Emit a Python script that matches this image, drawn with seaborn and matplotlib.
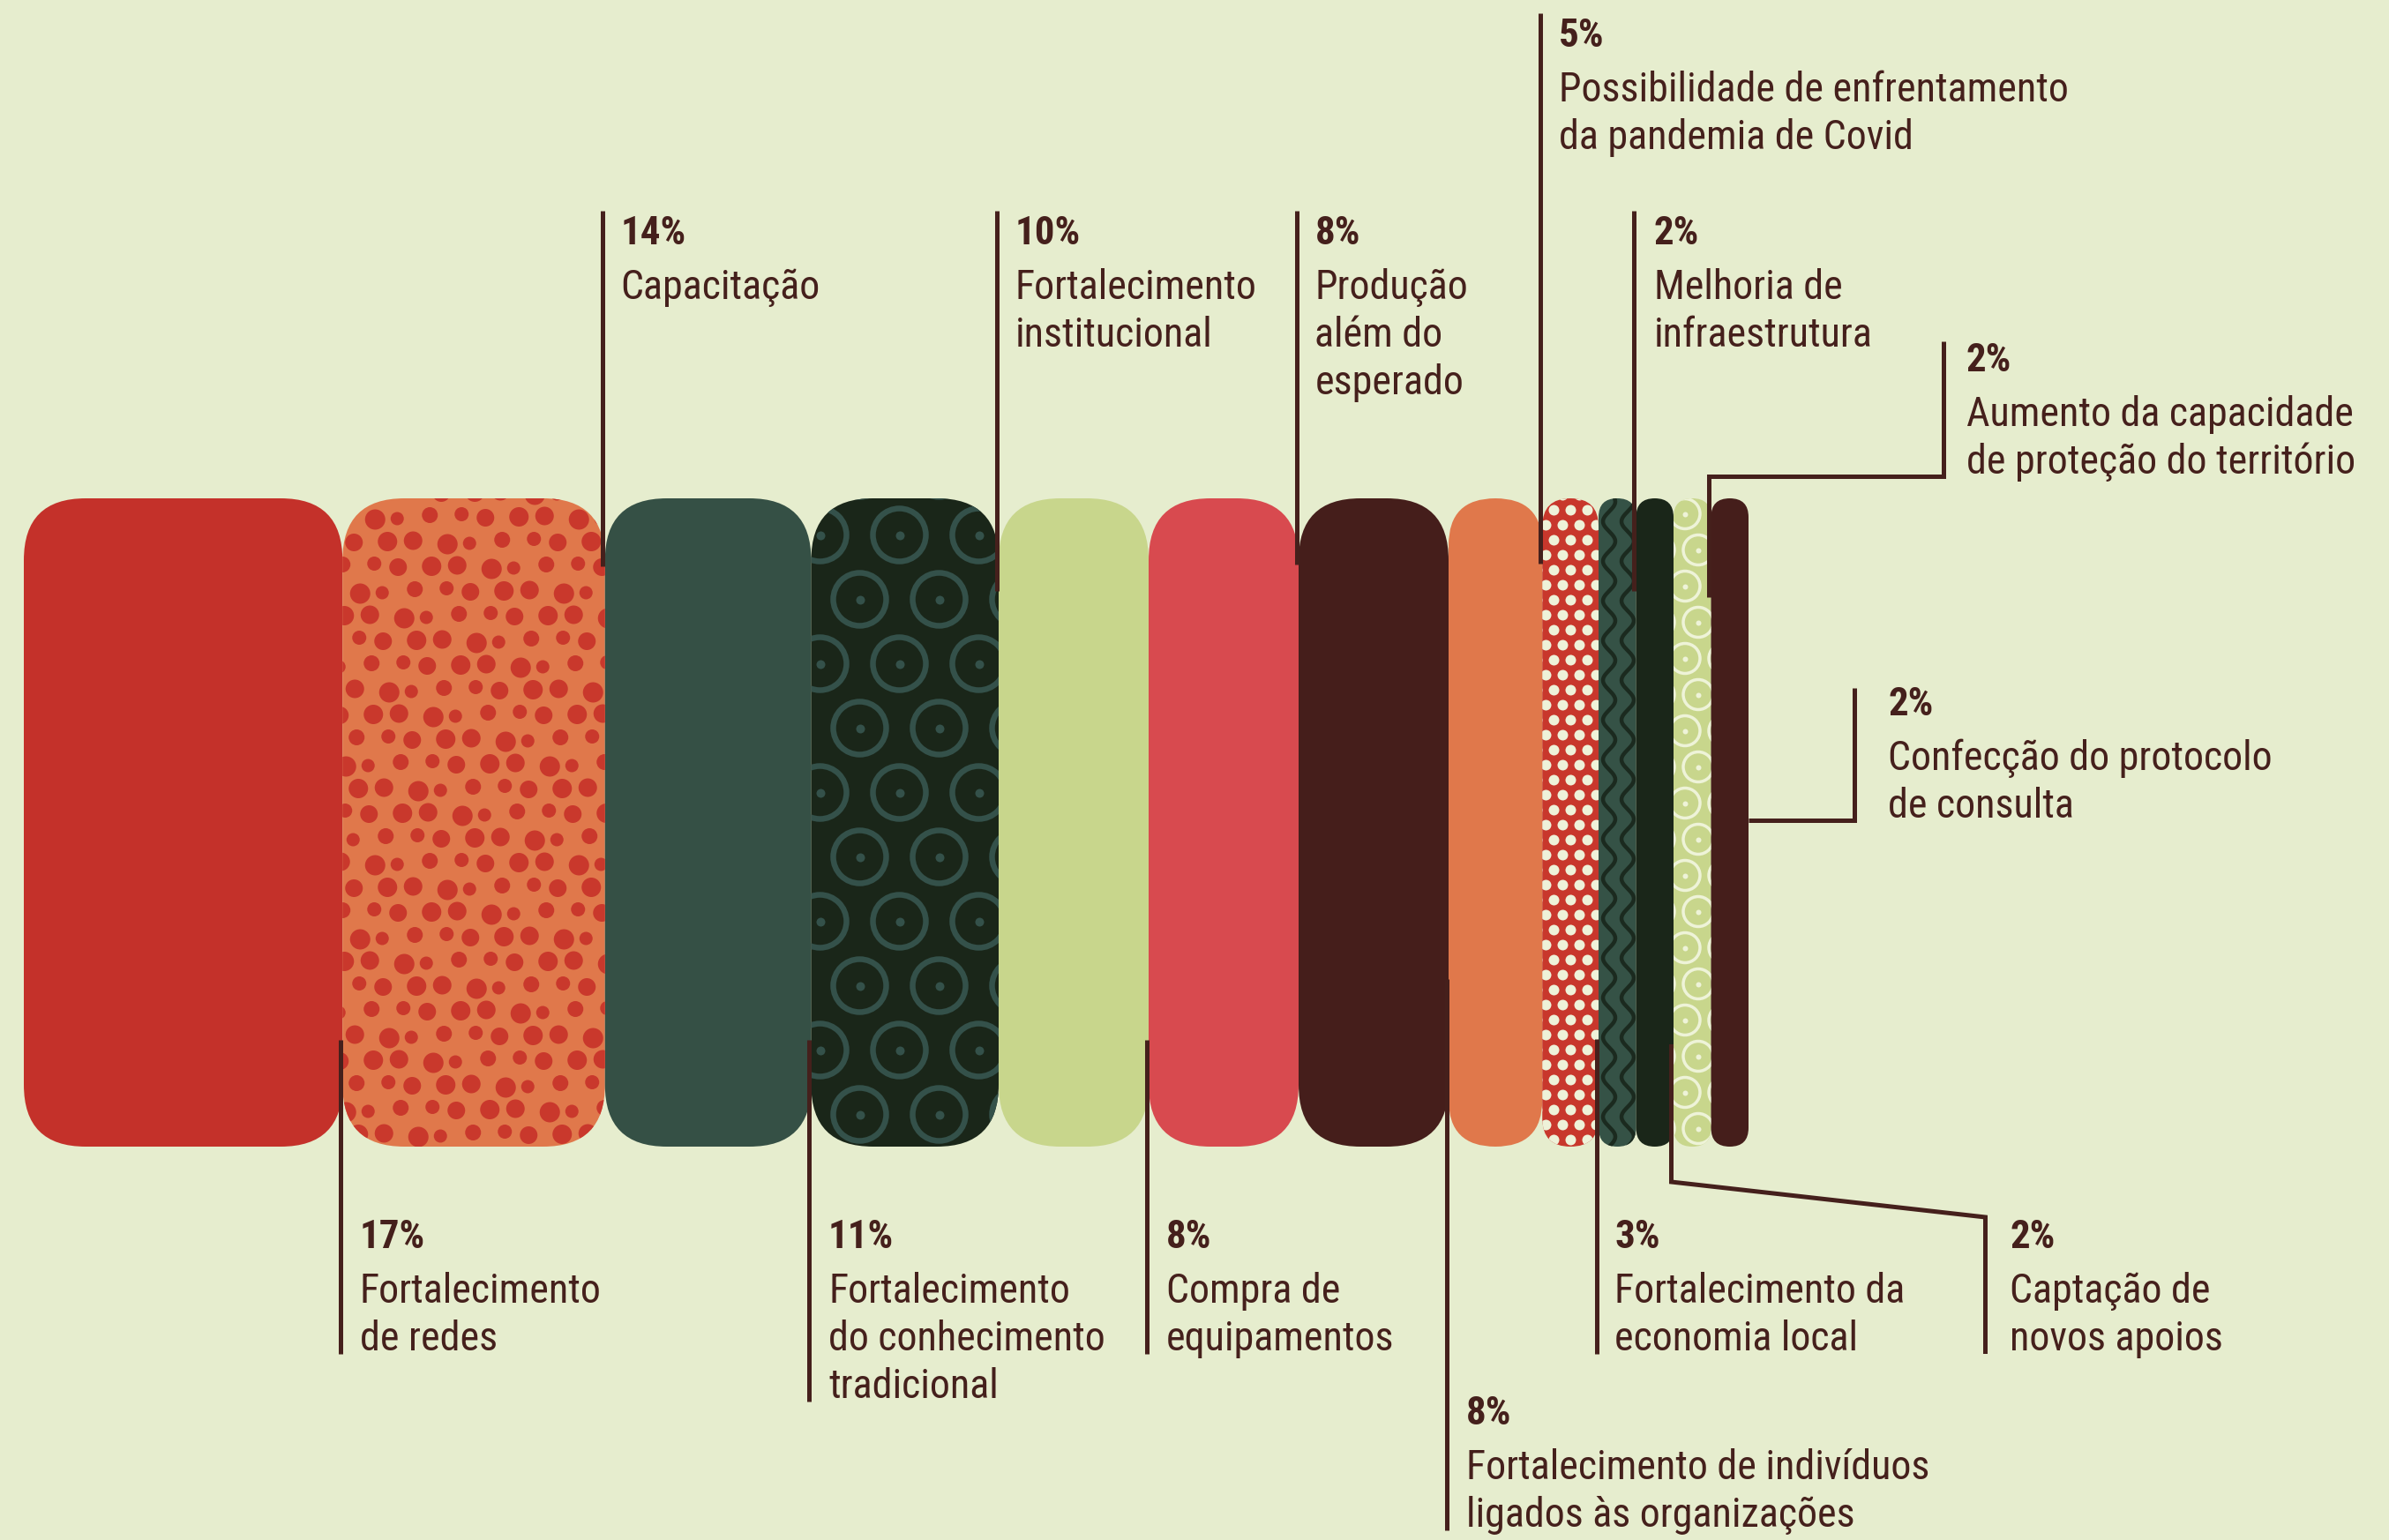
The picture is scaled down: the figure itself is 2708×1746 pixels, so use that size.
import numpy as np
import matplotlib
matplotlib.use("Agg")
import matplotlib.pyplot as plt
from matplotlib.patches import FancyBboxPatch
from matplotlib import font_manager
import seaborn as sns

# ---- data -------------------------------------------------------------
categories = [
    "Fortalecimento\nde redes",
    "Capacitação",
    "Fortalecimento\ndo conhecimento\ntradicional",
    "Fortalecimento\ninstitucional",
    "Compra de\nequipamentos",
    "Produção\nalém do\nesperado",
    "Fortalecimento de indivíduos\nligados às organizações",
    "Possibilidade de enfrentamento\nda pandemia de Covid",
    "Fortalecimento da\neconomia local",
    "Melhoria de\ninfraestrutura",
    "Captação de\nnovos apoios",
    "Aumento da capacidade\nde proteção do território",
    "Confecção do protocolo\nde consulta",
]
values = [17, 14, 11, 10, 8, 8, 8, 5, 3, 2, 2, 2, 2]

# ---- style ------------------------------------------------------------
BG = "#E6EDCE"
INK = "#45201C"
bar_colors = ["#C4312A", "#E0784B", "#355045", "#1A2619", "#C8D68C", "#D84A4F",
              "#451E1B", "#E0784B", "#C8372C", "#355246", "#1A2619", "#C8D68C", "#451E1B"]
textures = [None, "spots", None, "rings", None, None, None, None, "dots", "waves",
            None, "swirls", None]

# label layout (reference pixel rows)
label_side = ["bottom", "top", "bottom", "top", "bottom", "top", "bottom", "top",
              "bottom", "top", "elbow_down", "elbow_up", "right"]
pct_base_px = [1415, 277, 1415, 277, 1415, 277, 1615, 53, 1415, 277, 1415, 421, 811]
line_in_px = [1179, 642, 1179, 670, 1179, 640, 1110, 639, 1178, 670, 1184, 677, 930]
text_gap_px = [22, 20, 22, 21, 22, 21, 22, 21, 21, 23, 28, 26, 38]

W, H, DPI = 2708, 1746, 100
PX = 21.25          # pixels per percentage point
X0 = 27             # left edge of first bar (px)
BASE = 1300         # bar bottom (px)
BAR_H = 735 / PX
CORNER = 70 / PX
FIRST_GAP, LINE_GAP = 62, 54


def xpx(p):
    return (p - X0) / PX


def ypx(p):
    return (BASE - p) / PX


def pt(px):
    return px * 72 / DPI


sns.set_theme(style="white", rc={"figure.facecolor": BG, "axes.facecolor": BG})
available = {f.name for f in font_manager.fontManager.ttflist}
FONT = next(f for f in ["Liberation Sans Narrow", "Roboto Condensed", "Roboto", "DejaVu Sans"]
            if f in available)
plt.rcParams["font.family"] = [FONT, "DejaVu Sans"]
LABEL_FS = pt(46)
PCT_FS = pt(45)

fig = plt.figure(figsize=(W / DPI, H / DPI), dpi=DPI)
ax = fig.add_axes([0, 0, 1, 1])
ax.set_xlim(xpx(0), xpx(W))
ax.set_ylim(ypx(H), ypx(0))
ax.set_axis_off()

# ---- bars -------------------------------------------------------------
lefts = np.concatenate([[0], np.cumsum(values)[:-1]])
bars = ax.bar(lefts, BAR_H, width=values, align="edge", color=bar_colors,
              linewidth=0, zorder=1)


def hex_grid(x0, x1, dx, dy, shift):
    pts = []
    for j, yy in enumerate(np.arange(-dy / 2, BAR_H + dy, dy)):
        off = shift if j % 2 else 0
        for i, xx in enumerate(np.arange(x0 - dx + off, x1 + dx, dx)):
            pts.append((xx, yy, i, j))
    return np.array(pts)


def add_texture(kind, x0, w, clip):
    x1 = x0 + w
    arts = []
    if kind == "spots":
        g = hex_grid(x0, x1, 33 / PX, 28 / PX, 16 / PX)
        k = (g[:, 2] * 5 + g[:, 3] * 3).astype(int)
        d = np.array([18, 22, 15, 20, 23, 16, 21])[k % 7]
        jx = np.array([0, 3, -3, 2, -2, 4, -4])[(k * 3) % 7] / PX
        jy = np.array([2, -3, 0, 3, -2, 1, -1])[(k * 2) % 7] / PX
        arts.append(ax.scatter(g[:, 0] + jx, g[:, 1] + jy, s=pt(d) ** 2,
                               color="#C9382C", linewidths=0, zorder=2))
    elif kind == "rings":
        g = hex_grid(x0 + 10 / PX, x1, 90 / PX, 73 / PX, 45 / PX)
        arts.append(ax.scatter(g[:, 0], g[:, 1], s=pt(60) ** 2, facecolors="none",
                               edgecolors="#34514A", linewidths=pt(6.5), zorder=2))
        arts.append(ax.scatter(g[:, 0], g[:, 1], s=pt(10) ** 2, color="#34514A",
                               linewidths=0, zorder=2))
    elif kind == "dots":
        g = hex_grid(x0 + 4 / PX, x1, 19 / PX, 17 / PX, 9 / PX)
        arts.append(ax.scatter(g[:, 0], g[:, 1], s=pt(12) ** 2, color="#EEF2D9",
                               linewidths=0, zorder=2))
    elif kind == "waves":
        yy = np.linspace(0, BAR_H, 400)
        for c in (12, 33):
            xx = x0 + c / PX + (7 / PX) * np.sin(yy * PX / 45 * 2 * np.pi)
            ln, = ax.plot(xx, yy, color="#1B2A1F", lw=pt(4.5), zorder=2)
            arts.append(ln)
    elif kind == "swirls":
        g = hex_grid(x0 + 13 / PX, x1, 44 / PX, 41 / PX, 15 / PX)
        arts.append(ax.scatter(g[:, 0], g[:, 1], s=pt(34) ** 2, facecolors="none",
                               edgecolors="#EEF3D8", linewidths=pt(3.5), zorder=2))
        arts.append(ax.scatter(g[:, 0], g[:, 1], s=pt(6) ** 2, color="#EEF3D8",
                               linewidths=0, zorder=2))
    for a in arts:
        a.set_clip_path(clip)


for rect, col, tex in zip(bars, bar_colors, textures):
    x, w, h = rect.get_x(), rect.get_width(), rect.get_height()
    r = min(CORNER, w / 2)
    patch = FancyBboxPatch((x, 0), w, h, boxstyle=f"round,pad=0,rounding_size={r}",
                           fc=col, ec="none", zorder=1)
    ax.add_patch(patch)
    rect.set_visible(False)
    if tex:
        add_texture(tex, x, w, patch)

# ---- labels -----------------------------------------------------------
LW = pt(5)


def leader(xs, ys):
    ax.plot(xs, [ypx(v) for v in ys], color=INK, lw=LW, solid_capstyle="butt",
            solid_joinstyle="miter", zorder=3)


def put_label(x, base, pct, text):
    ax.text(x, ypx(base), pct, fontsize=PCT_FS, fontweight="bold", color=INK,
            va="baseline", ha="left", zorder=4)
    lines = text.split("\n")
    for k, ln in enumerate(lines):
        ax.text(x, ypx(base + FIRST_GAP + k * LINE_GAP), ln, fontsize=LABEL_FS,
                color=INK, va="baseline", ha="left", zorder=4)
    return base + FIRST_GAP + (len(lines) - 1) * LINE_GAP


for i, (cat, v) in enumerate(zip(categories, values)):
    right = lefts[i] + v
    lx = right - 2.5 / PX
    side, base, lin, gap = label_side[i], pct_base_px[i], line_in_px[i], text_gap_px[i]
    pct = f"{v}%"
    if side == "top":
        put_label(lx + gap / PX, base, pct, cat)
        leader([lx, lx], [base - 38, lin])
    elif side == "bottom":
        last = put_label(lx + gap / PX, base, pct, cat)
        leader([lx, lx], [lin, last + 4])
    elif side == "elbow_down":
        bx = lx + 356 / PX
        last = put_label(bx + gap / PX, base, pct, cat)
        leader([lx, lx, bx, bx], [lin, 1340, 1380, last + 4])
    elif side == "elbow_up":
        bx = lx + 266 / PX
        put_label(bx + gap / PX, base, pct, cat)
        leader([lx, lx, bx, bx], [lin, 540, 540, base - 34])
    elif side == "right":
        bx = right + 120 / PX
        put_label(bx + gap / PX, base, pct, cat)
        leader([right, bx, bx], [lin, lin, base - 31])

fig.savefig("out.png", dpi=DPI, facecolor=BG)
